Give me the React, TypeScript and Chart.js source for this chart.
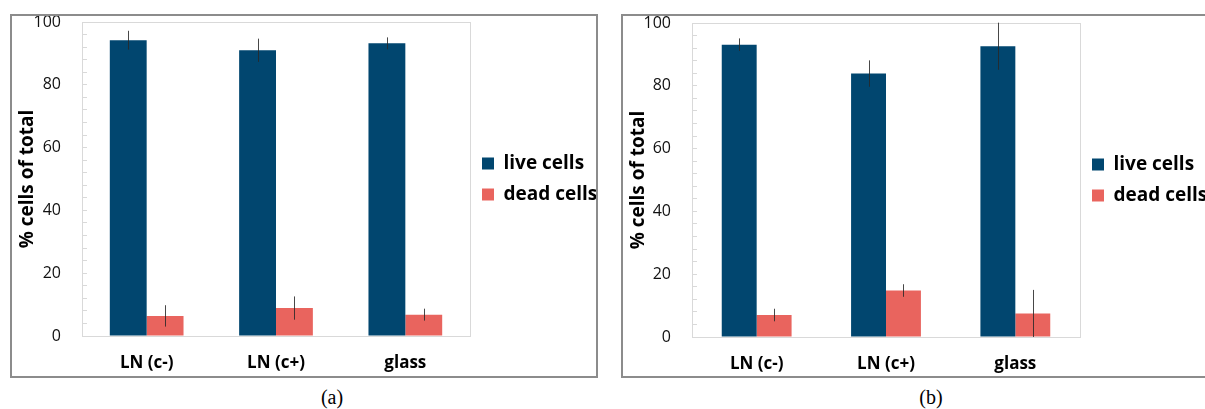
import React, { useEffect, useRef } from "react";
import { Chart, registerables } from "chart.js";

Chart.register(...registerables);

const categories = ["LN (c-)", "LN (c+)", "glass"];
const seriesNames = ["live cells", "dead cells"];

const liveA = [94.2, 91.0, 93.2];
const liveErrA = [3.0, 3.7, 1.9];
const deadA = [6.4, 8.9, 6.8];
const deadErrA = [3.4, 3.7, 1.9];

const liveB = [93.1, 83.9, 92.6];
const liveErrB = [2.0, 4.2, 7.5];
const deadB = [7.0, 14.8, 7.5];
const deadErrB = [2.0, 2.0, 7.5];

const yTicksLabeled = [0, 20, 40, 60, 80, 100];

const LIVE_COLOR = "#01466f";
const DEAD_COLOR = "#e9645e";
const FRAME_GRAY = "#d9d9d9";
const FONT = "'Open Sans'";

const errorBarPlugin = {
  id: "errorBars",
  afterDatasetsDraw(chart: any) {
    const ctx = chart.ctx;
    const yScale = chart.scales.y;
    ctx.save();
    chart.data.datasets.forEach((ds: any, di: number) => {
      const meta = chart.getDatasetMeta(di);
      meta.data.forEach((bar: any, i: number) => {
        const v = ds.data[i];
        const e = ds.errors[i];
        const yTop = yScale.getPixelForValue(v + e);
        const yBot = yScale.getPixelForValue(v - e);
        const x = Math.round(bar.x) + 0.5;
        ctx.strokeStyle = "rgba(40,40,40,0.85)";
        ctx.lineWidth = 1;
        ctx.beginPath();
        ctx.moveTo(x, yTop);
        ctx.lineTo(x, yBot);
        ctx.stroke();
      });
    });
    ctx.restore();
  },
};

const framePlugin = {
  id: "plotFrame",
  beforeDatasetsDraw(chart: any) {
    const { left, right, top, bottom } = chart.chartArea;
    const ctx = chart.ctx;
    ctx.save();
    ctx.strokeStyle = FRAME_GRAY;
    ctx.lineWidth = 1;
    ctx.strokeRect(Math.round(left) + 0.5, Math.round(top) + 0.5, Math.round(right - left), Math.round(bottom - top));
    ctx.restore();
  },
};

function Panel(props: {
  live: number[];
  liveErr: number[];
  dead: number[];
  deadErr: number[];
  catPct: number;
  yWidth: number;
  xHeight: number;
  topPad: number;
  legendWidth: number;
}) {
  const ref = useRef<HTMLCanvasElement | null>(null);
  useEffect(() => {
    if (!ref.current) return;
    const chart = new Chart(ref.current, {
      type: "bar",
      data: {
        labels: categories,
        datasets: [
          {
            label: seriesNames[0],
            data: props.live,
            errors: props.liveErr,
            backgroundColor: LIVE_COLOR,
            borderWidth: 0,
            barPercentage: 1,
            categoryPercentage: props.catPct,
          } as any,
          {
            label: seriesNames[1],
            data: props.dead,
            errors: props.deadErr,
            backgroundColor: DEAD_COLOR,
            borderWidth: 0,
            barPercentage: 1,
            categoryPercentage: props.catPct,
          } as any,
        ],
      },
      options: {
        animation: false,
        responsive: false,
        maintainAspectRatio: false,
        layout: { padding: { top: props.topPad, right: 0, bottom: 0, left: 0 } },
        plugins: {
          tooltip: { enabled: false },
          legend: {
            display: true,
            position: "right",
            fullSize: false,
            maxWidth: props.legendWidth,
            labels: {
              boxWidth: 12,
              boxHeight: 12,
              padding: 12,
              color: "#000",
              font: { family: FONT, size: 19, weight: "bold" },
            },
          },
        },
        scales: {
          x: {
            afterFit(scale: any) {
              scale.height = props.xHeight;
            },
            grid: { display: false, drawTicks: false },
            border: { display: true, color: FRAME_GRAY },
            ticks: {
              color: "#000",
              padding: 17,
              font: { family: FONT, size: 17, weight: "bold" },
            },
          },
          y: {
            min: 0,
            max: 100,
            afterFit(scale: any) {
              scale.width = props.yWidth;
              scale.paddingTop = 0;
              scale.paddingBottom = 0;
            },
            afterBuildTicks(scale: any) {
              const t = [];
              for (let v = 0; v <= 100; v += 4) t.push({ value: v });
              scale.ticks = t;
            },
            ticks: {
              autoSkip: false,
              padding: 26,
              color: "#111",
              font: { family: FONT, size: 16 },
              callback: (v: any) => (yTicksLabeled.includes(Number(v)) ? String(v) : ""),
            },
            grid: {
              display: true,
              drawOnChartArea: false,
              drawTicks: true,
              tickLength: -5,
              color: FRAME_GRAY,
            },
            border: { display: true, color: FRAME_GRAY },
            title: {
              display: true,
              text: "% cells of total",
              color: "#000",
              padding: { top: 4, bottom: 0 },
              font: { family: FONT, size: 19, weight: "bold" },
            },
          },
        },
      },
      plugins: [framePlugin, errorBarPlugin],
    } as any);
    return () => chart.destroy();
  }, []);
  return <canvas ref={ref} width={584} height={360} style={{ display: "block", width: 584, height: 360 }} />;
}

export default function App() {
  return (
    <div
      style={{
        position: "absolute",
        left: 0,
        top: 0,
        width: 1205,
        height: 409,
        overflow: "hidden",
        background: "#fff",
      }}
    >
      <div
        style={{
          position: "absolute",
          left: 10,
          top: 14,
          width: 584,
          height: 360,
          border: "2px solid #8c8c8c",
        }}
      >
        <Panel live={liveA} liveErr={liveErrA} dead={deadA} deadErr={deadErrA} catPct={0.57} yWidth={70} xHeight={40} topPad={6} legendWidth={126} />
      </div>
      <div
        style={{
          position: "absolute",
          left: 621,
          top: 14,
          width: 600,
          height: 360,
          border: "2px solid #8c8c8c",
        }}
      >
        <Panel live={liveB} liveErr={liveErrB} dead={deadB} deadErr={deadErrB} catPct={0.54} yWidth={69} xHeight={39} topPad={7} legendWidth={127} />
      </div>
      <div
        style={{
          position: "absolute",
          left: 302,
          top: 384,
          width: 60,
          textAlign: "center",
          fontFamily: "'Liberation Serif', serif",
          fontSize: 20,
          lineHeight: "26px",
          color: "#000",
        }}
      >
        (a)
      </div>
      <div
        style={{
          position: "absolute",
          left: 901,
          top: 384,
          width: 60,
          textAlign: "center",
          fontFamily: "'Liberation Serif', serif",
          fontSize: 20,
          lineHeight: "26px",
          color: "#000",
        }}
      >
        (b)
      </div>
    </div>
  );
}
